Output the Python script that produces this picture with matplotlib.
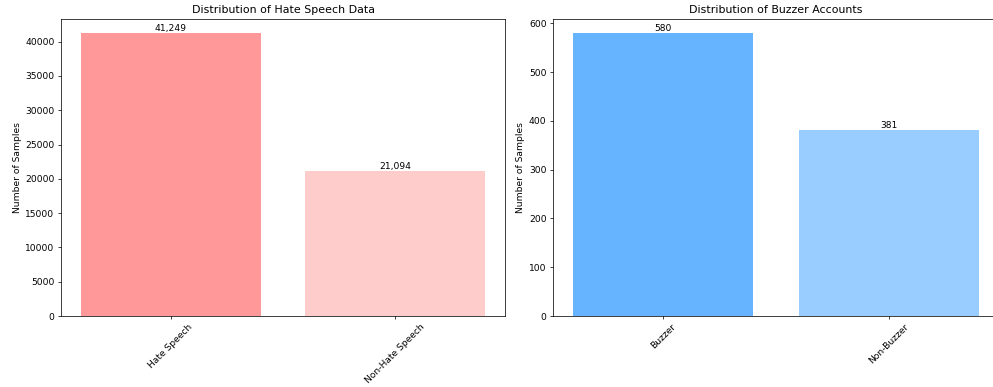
import matplotlib
matplotlib.use("Agg")
import matplotlib.pyplot as plt

hate_labels = ["Hate Speech", "Non-Hate Speech"]
hate_values = [41249, 21094]
hate_colors = ["#ff9999", "#ffcccc"]

buzzer_labels = ["Buzzer", "Non-Buzzer"]
buzzer_values = [580, 381]
buzzer_colors = ["#66b3ff", "#99ccff"]

dpi = 66.2
W, H = 993, 387
fig, (ax1, ax2) = plt.subplots(1, 2, figsize=(W / dpi, H / dpi), dpi=dpi)
bottom = 1 - 316 / H
top = 1 - 19 / H
ax1.set_position([61 / W, bottom, (505 - 61) / W, top - bottom])
ax2.set_position([553 / W, bottom, 446 / W, top - bottom])

bars = ax1.bar(hate_labels, hate_values, color=hate_colors)
ax1.set_title("Distribution of Hate Speech Data")
ax1.set_ylabel("Number of Samples")
ax1.tick_params(axis="x", rotation=45)
for b, v in zip(bars, hate_values):
    ax1.text(b.get_x() + b.get_width() / 2, b.get_height(), f"{v:,}", ha="center", va="bottom")

bars = ax2.bar(buzzer_labels, buzzer_values, color=buzzer_colors)
ax2.set_title("Distribution of Buzzer Accounts")
ax2.set_ylabel("Number of Samples")
ax2.tick_params(axis="x", rotation=45)
for b, v in zip(bars, buzzer_values):
    ax2.text(b.get_x() + b.get_width() / 2, b.get_height(), f"{v:,}", ha="center", va="bottom")

fig.savefig("out.png", dpi=dpi)
